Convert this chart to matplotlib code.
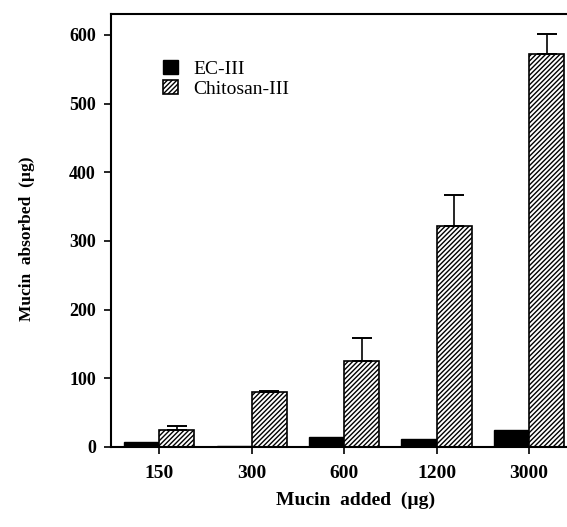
import numpy as np
import matplotlib
matplotlib.use("Agg")
import matplotlib.pyplot as plt

plt.rcParams['font.family'] = ['Liberation Serif', 'DejaVu Serif']
plt.rcParams['hatch.linewidth'] = 1.0

# mucin added (ug) and amount absorbed by each microsphere type
doses = ["150", "300", "600", "1200", "3000"]
ec_iii = [7, 2, 15, 12, 24]
chitosan_iii = [24, 80, 125, 322, 572]
chitosan_err = [6, 2, 34, 45, 29]

x = np.arange(len(doses))
w = 0.38

fig = plt.figure(figsize=(5.67, 5.27), dpi=100)
# the frame runs past the right edge of the figure
ax = fig.add_axes([0.196, 0.152, 0.861, 0.821])

ax.bar(x - w / 2, ec_iii, w, color='black', edgecolor='black', linewidth=1.0,
       label='EC-III')
ax.bar(x + w / 2, chitosan_iii, w, color='white', edgecolor='black',
       hatch='///////', linewidth=1.2, label='Chitosan-III')
ax.errorbar(x + w / 2, chitosan_iii, yerr=[np.zeros(len(x)), chitosan_err],
            fmt='none', ecolor='black', elinewidth=1.2, capsize=7, capthick=1.4)

ax.set_ylim(0, 630)
ax.set_xlim(-0.52, 4.76)
ax.set_yticks(range(0, 601, 100))
ax.set_xticks(x)
ax.set_xticklabels(doses)

for lab in ax.get_xticklabels():
    lab.set_fontweight('bold')
    lab.set_fontsize(14)
for lab in ax.get_yticklabels():
    lab.set_fontweight('bold')
    lab.set_fontsize(13)

ax.tick_params(direction='out', length=5, width=1.2)
ax.tick_params(axis='x', pad=8)
ax.tick_params(axis='y', pad=6)
for s in ['left', 'bottom', 'top', 'right']:
    ax.spines[s].set_linewidth(1.5)

ax.set_ylabel(u"Mucin  absorbed  (\u00b5g)", fontsize=12.5, fontweight='bold')
ax.yaxis.set_label_coords(-0.155, 0.48)
ax.set_xlabel(u"Mucin  added  (\u00b5g)", fontsize=14, fontweight='bold',
              labelpad=7)

ax.legend(loc='upper left', bbox_to_anchor=(0.091, 0.913), frameon=False,
          fontsize=14, handlelength=0.75, handleheight=0.75,
          handletextpad=0.8, labelspacing=0.12, borderaxespad=0)

fig.savefig("out.png", dpi=100)
